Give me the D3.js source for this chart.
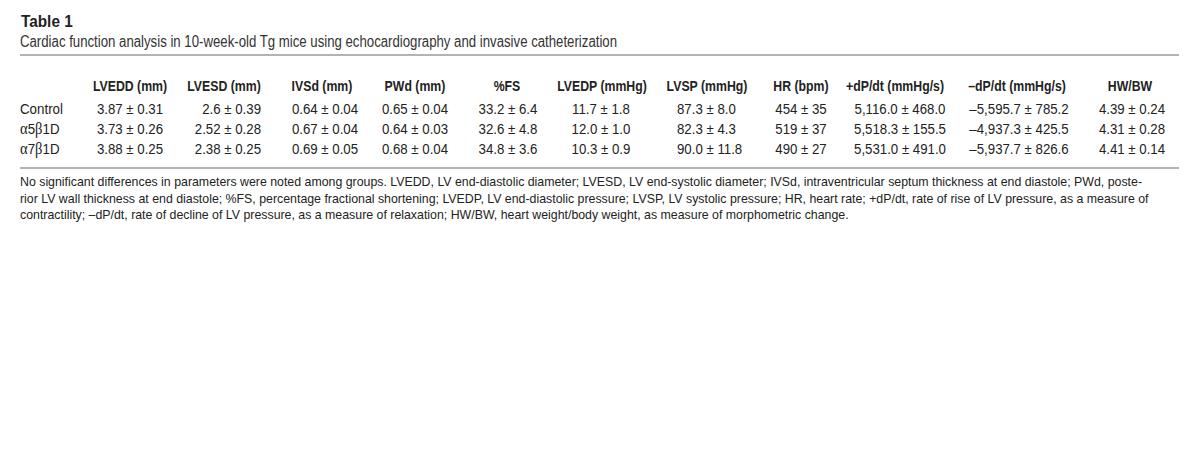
<!DOCTYPE html>
<html>
<head>
<meta charset="utf-8">
<script src="https://cdn.jsdelivr.net/npm/d3@7"></script>
<style>
  body { margin: 0; background: #fff; }
  svg { display: block; }
</style>
</head>
<body>
<div id="chart"></div>
<script>
// table content
const title = "Table 1";
const subtitle = "Cardiac function analysis in 10-week-old Tg mice using echocardiography and invasive catheterization";
const groups = ["Control", "α5β1D", "α7β1D"];
const params = ["LVEDD (mm)", "LVESD (mm)", "IVSd (mm)", "PWd (mm)", "%FS", "LVEDP (mmHg)",
                "LVSP (mmHg)", "HR (bpm)", "+dP/dt (mmHg/s)", "\u2013dP/dt (mmHg/s)", "HW/BW"];
// mean and SD per group, one entry per parameter
const controlMean = ["3.87", "2.6", "0.64", "0.65", "33.2", "11.7", "87.3", "454", "5,116.0", "\u20135,595.7", "4.39"];
const controlSD   = ["0.31", "0.39", "0.04", "0.04", "6.4", "1.8", "8.0", "35", "468.0", "785.2", "0.24"];
const a5b1Mean    = ["3.73", "2.52", "0.67", "0.64", "32.6", "12.0", "82.3", "519", "5,518.3", "\u20134,937.3", "4.31"];
const a5b1SD      = ["0.26", "0.28", "0.04", "0.03", "4.8", "1.0", "4.3", "37", "155.5", "425.5", "0.28"];
const a7b1Mean    = ["3.88", "2.38", "0.69", "0.68", "34.8", "10.3", "90.0", "490", "5,531.0", "\u20135,937.7", "4.41"];
const a7b1SD      = ["0.25", "0.25", "0.05", "0.04", "3.6", "0.9", "11.8", "27", "491.0", "826.6", "0.14"];
const footnote = [
  "No significant differences in parameters were noted among groups. LVEDD, LV end-diastolic diameter; LVESD, LV end-systolic diameter; IVSd, intraventricular septum thickness at end diastole; PWd, poste-",
  "rior LV wall thickness at end diastole; %FS, percentage fractional shortening; LVEDP, LV end-diastolic pressure; LVSP, LV systolic pressure; HR, heart rate; +dP/dt, rate of rise of LV pressure, as a measure of",
  "contractility; \u2013dP/dt, rate of decline of LV pressure, as a measure of relaxation; HW/BW, heart weight/body weight, as measure of morphometric change."
];

const means = [controlMean, a5b1Mean, a7b1Mean];
const sds = [controlSD, a5b1SD, a7b1SD];

// layout
const width = 1200, height = 473;
const headerX = [130, 224, 322, 415, 507, 602, 707, 801, 895, 1017, 1130];
const valueX  = [130, 261, 325, 415, 508, 601, 677, 801, 900, 1019, 1132];
const valueAnchor = ["middle", "end", "middle", "middle", "middle", "middle", "start", "middle", "middle", "middle", "middle"];
const sans = "'Liberation Sans', Arial, Helvetica, sans-serif";

const xHead = d3.scaleOrdinal().domain(params).range(headerX);
const xVal = d3.scaleOrdinal().domain(params).range(valueX);
const y = d3.scalePoint().domain(groups).range([113.5, 154]);

// no condensed face installed, so squeeze horizontally
function place(sel, fx, fy, sx) {
  sel.attr("transform", (d, i) => `translate(${fx(d, i)},${fy(d, i)}) scale(${sx},1)`);
}

const svg = d3.select("#chart").append("svg")
  .attr("width", width).attr("height", height);

svg.append("text")
  .attr("font-family", sans)
  .attr("font-weight", "bold").attr("font-size", 16.5)
  .attr("fill", "#222")
  .text(title)
  .call(place, () => 21, () => 27, 0.93);

svg.append("text")
  .attr("font-family", sans).attr("font-size", 16)
  .attr("fill", "#333")
  .text(subtitle)
  .call(place, () => 20, () => 46.5, 0.826);

// rules
svg.selectAll("line.rule").data([55, 168]).join("line")
  .attr("class", "rule")
  .attr("x1", 20).attr("x2", 1179)
  .attr("y1", d => d).attr("y2", d => d)
  .attr("stroke", "#b3b3b3").attr("stroke-width", 2);

// header row
svg.append("g").selectAll("text").data(params).join("text")
  .attr("text-anchor", "middle")
  .attr("font-family", sans).attr("font-weight", "bold").attr("font-size", 15)
  .attr("fill", "#222")
  .text(d => d)
  .call(place, d => xHead(d), () => 90.5, 0.82);

// group labels, greek letters in serif
const labels = svg.append("g").selectAll("text").data(groups).join("text")
  .attr("font-family", sans).attr("font-size", 15.5)
  .attr("fill", "#222")
  .call(place, () => 20, d => y(d), 0.86);
labels.each(function(d) {
  const t = d3.select(this);
  for (const ch of d) {
    const greek = /[αβ]/.test(ch);
    t.append("tspan")
      .attr("font-family", greek ? "'Liberation Serif', 'DejaVu Serif', serif" : null)
      .attr("font-size", greek ? 17 : null)
      .text(ch);
  }
});

// cells
const rows = svg.append("g").selectAll("g").data(groups).join("g")
  .attr("transform", d => `translate(0,${y(d)})`);
rows.selectAll("text")
  .data((g, gi) => params.map((p, pi) => ({p, pi, text: `${means[gi][pi]} \u00b1 ${sds[gi][pi]}`})))
  .join("text")
  .attr("text-anchor", d => valueAnchor[d.pi])
  .attr("font-family", sans).attr("font-size", 15.5)
  .attr("fill", "#222")
  .text(d => d.text)
  .call(place, d => xVal(d.p), () => 0, 0.855);

// footnote
svg.append("g").selectAll("text").data(footnote).join("text")
  .attr("x", 20).attr("y", (d, i) => 186 + i * 16.5)
  .attr("font-family", sans).attr("font-size", 12.35)
  .attr("fill", "#222")
  .text(d => d);
</script>
</body>
</html>
